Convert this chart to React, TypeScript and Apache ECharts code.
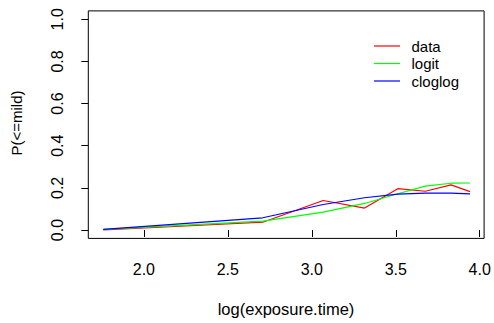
import React, { useEffect, useRef } from "react";
import * as echarts from "echarts";

const logExposure = [1.758, 2.708, 3.068, 3.314, 3.512, 3.676, 3.829, 3.942];
const dataValues = [0.0, 0.037, 0.14, 0.104, 0.196, 0.184, 0.214, 0.182];
const logitValues = [0.003, 0.042, 0.085, 0.126, 0.172, 0.208, 0.222, 0.223];
const cloglogValues = [0.003, 0.058, 0.121, 0.153, 0.17, 0.175, 0.175, 0.171];
const seriesNames = ["data", "logit", "cloglog"];
const seriesColors = ["#FF0000", "#00FF00", "#0000FF"];
const xTicks = [2.0, 2.5, 3.0, 3.5, 4.0];
const yTicks = [0.0, 0.2, 0.4, 0.6, 0.8, 1.0];

const FONT = "'Liberation Sans', Arial, sans-serif";

export default function App() {
  const ref = useRef<HTMLDivElement>(null);
  useEffect(() => {
    if (!ref.current) return;
    const chart = echarts.init(ref.current, null, { renderer: "svg" });
    const allValues = [dataValues, logitValues, cloglogValues];
    const series = seriesNames.map((name, i) => ({
      name,
      type: "line",
      data: logExposure.map((x, j) => [x, allValues[i][j]]),
      symbol: "none",
      clip: false,
      lineStyle: { color: seriesColors[i], width: 1.2 },
      itemStyle: { color: seriesColors[i] },
    }));
    const legendTop = 46;
    const legendStep = 17.5;
    const graphics: any[] = [
      {
        type: "rect",
        shape: { x: 88.3, y: 10.9, width: 395.8, height: 227.5 },
        style: { fill: "none", stroke: "#000", lineWidth: 1 },
        silent: true,
      },
      {
        type: "text",
        x: 286,
        y: 300,
        style: {
          text: "log(exposure.time)",
          fill: "#000",
          font: `16.5px ${FONT}`,
          align: "center",
          verticalAlign: "top",
        },
      },
      {
        type: "text",
        x: 16.5,
        y: 123,
        rotation: Math.PI / 2,
        style: {
          text: "P(<=mild)",
          fill: "#000",
          font: `15px ${FONT}`,
          align: "center",
          verticalAlign: "middle",
        },
      },
    ];
    seriesNames.forEach((name, i) => {
      const y = legendTop + i * legendStep;
      graphics.push({
        type: "line",
        shape: { x1: 374, y1: y, x2: 400, y2: y },
        style: { stroke: seriesColors[i], lineWidth: 1.2 },
      });
      graphics.push({
        type: "text",
        x: 411.5,
        y,
        style: {
          text: name,
          fill: "#000",
          font: `15px ${FONT}`,
          align: "left",
          verticalAlign: "middle",
        },
      });
    });
    chart.setOption({
      animation: false,
      grid: {
        left: 88.3,
        right: 9.9,
        top: 19.3,
        bottom: 93,
        show: false,
        containLabel: false,
      },
      xAxis: {
        type: "value",
        min: 1.669,
        max: 4.026,
        offset: 8.4,
        axisLine: { show: false },
        splitLine: { show: false },
        axisTick: {
          show: true,
          length: 7,
          inside: false,
          customValues: xTicks,
          lineStyle: { color: "#000", width: 1 },
        },
        axisLabel: {
          customValues: xTicks,
          formatter: (v: number) => v.toFixed(1),
          color: "#000",
          fontFamily: FONT,
          fontSize: 16,
          margin: 23,
        },
      },
      yAxis: {
        type: "value",
        min: 0,
        max: 1,
        interval: 0.2,
        axisLine: { show: false },
        splitLine: { show: false },
        axisTick: {
          show: true,
          length: 7,
          inside: false,
          lineStyle: { color: "#000", width: 1 },
        },
        axisLabel: { show: false },
      },
      graphic: graphics,
      series,
    });
    const yLabelGraphics = yTicks.map((v) => {
      const py = chart.convertToPixel({ yAxisIndex: 0 }, v) as number;
      return {
        type: "text",
        x: 57.5,
        y: py,
        rotation: Math.PI / 2,
        style: {
          text: v.toFixed(1),
          fill: "#000",
          font: `16px ${FONT}`,
          align: "center",
          verticalAlign: "middle",
        },
      };
    });
    chart.setOption({ graphic: [...graphics, ...yLabelGraphics] }, { replaceMerge: ["graphic"] });
    return () => chart.dispose();
  }, []);
  return (
    <div
      ref={ref}
      style={{ position: "fixed", left: 0, top: 0, width: 494, height: 323, background: "#fff" }}
    />
  );
}
